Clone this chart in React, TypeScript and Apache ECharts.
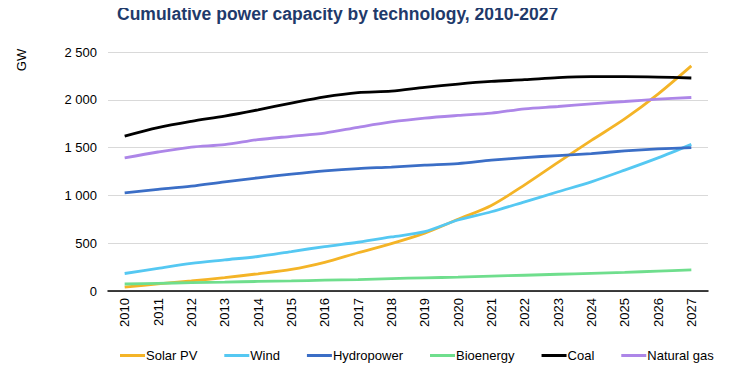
import React, { useEffect, useRef } from "react";
import * as echarts from "echarts";

const years = ["2010","2011","2012","2013","2014","2015","2016","2017","2018","2019","2020","2021","2022","2023","2024","2025","2026","2027"];
const solarPV = [40, 75, 105, 140, 180, 225, 300, 400, 495, 605, 750, 895, 1110, 1345, 1575, 1800, 2060, 2355];
const wind = [183, 237, 290, 326, 361, 413, 465, 510, 565, 621, 743, 829, 933, 1038, 1142, 1264, 1392, 1534];
const hydropower = [1027, 1062, 1097, 1142, 1184, 1222, 1256, 1281, 1296, 1316, 1333, 1368, 1396, 1417, 1438, 1465, 1486, 1500];
const bioenergy = [73, 80, 87, 93, 100, 106, 113, 120, 130, 138, 145, 155, 165, 175, 185, 195, 208, 220];
const coal = [1621, 1710, 1775, 1830, 1895, 1965, 2030, 2075, 2090, 2131, 2165, 2192, 2210, 2233, 2243, 2243, 2238, 2228];
const naturalGas = [1392, 1454, 1506, 1531, 1583, 1618, 1652, 1712, 1768, 1808, 1836, 1860, 1906, 1930, 1958, 1982, 2006, 2024];

const seriesDefs = [
  { name: "Solar PV", data: solarPV, color: "#F4B427" },
  { name: "Wind", data: wind, color: "#55C8F2" },
  { name: "Hydropower", data: hydropower, color: "#3B6EC6" },
  { name: "Bioenergy", data: bioenergy, color: "#6FDE8D" },
  { name: "Coal", data: coal, color: "#000000" },
  { name: "Natural gas", data: naturalGas, color: "#AD86E8" },
];

const FONT = "Liberation Sans, Arial, sans-serif";

export default function App() {
  const ref = useRef<HTMLDivElement>(null);
  useEffect(() => {
    if (!ref.current) return;
    const chart = echarts.init(ref.current, undefined, { renderer: "svg" });
    chart.setOption({
      animation: false,
      textStyle: { fontFamily: FONT },
      title: {
        text: "Cumulative power capacity by technology, 2010-2027",
        left: 117,
        top: 5,
        padding: 0,
        textStyle: { fontSize: 17.5, fontWeight: "bold", color: "#1F3A6B", fontFamily: FONT },
      },
      graphic: [
        {
          type: "text",
          x: 21.5,
          y: 60,
          rotation: Math.PI / 2,
          style: { text: "GW", fill: "#000", fontSize: 13, fontFamily: FONT, align: "center", verticalAlign: "middle" },
        },
      ],
      legend: {
        top: 349,
        left: 120,
        padding: 0,
        itemGap: 27,
        itemWidth: 25,
        itemHeight: 3,
        icon: "rect",
        textStyle: { fontSize: 13, color: "#000", padding: [0, 0, 0, -4] },
        data: seriesDefs.map((s) => s.name),
      },
      grid: { left: 108, right: 41, top: 52, bottom: 82 },
      xAxis: {
        type: "category",
        data: years,
        boundaryGap: true,
        axisLine: { lineStyle: { color: "#000", width: 1.5 } },
        axisTick: { show: false },
        axisLabel: { rotate: 90, color: "#000", fontSize: 13, margin: 7, interval: 0 },
      },
      yAxis: {
        type: "value",
        min: 0,
        max: 2500,
        interval: 500,
        axisLine: { show: false },
        axisTick: { show: false },
        splitLine: { lineStyle: { color: "#D9D9D9", width: 1 } },
        axisLabel: {
          color: "#000",
          fontSize: 13,
          margin: 11,
          formatter: (v: number) => (v >= 1000 ? Math.floor(v / 1000) + " " + String(v % 1000).padStart(3, "0") : String(v)),
        },
      },
      series: seriesDefs.map((s) => ({
        name: s.name,
        type: "line",
        data: s.data,
        smooth: 0.3,
        showSymbol: false,
        symbol: "none",
        lineStyle: { color: s.color, width: 2.8 },
        itemStyle: { color: s.color },
      })),
    });
    return () => chart.dispose();
  }, []);
  return <div ref={ref} style={{ width: 749, height: 373, margin: -8 }} />;
}
